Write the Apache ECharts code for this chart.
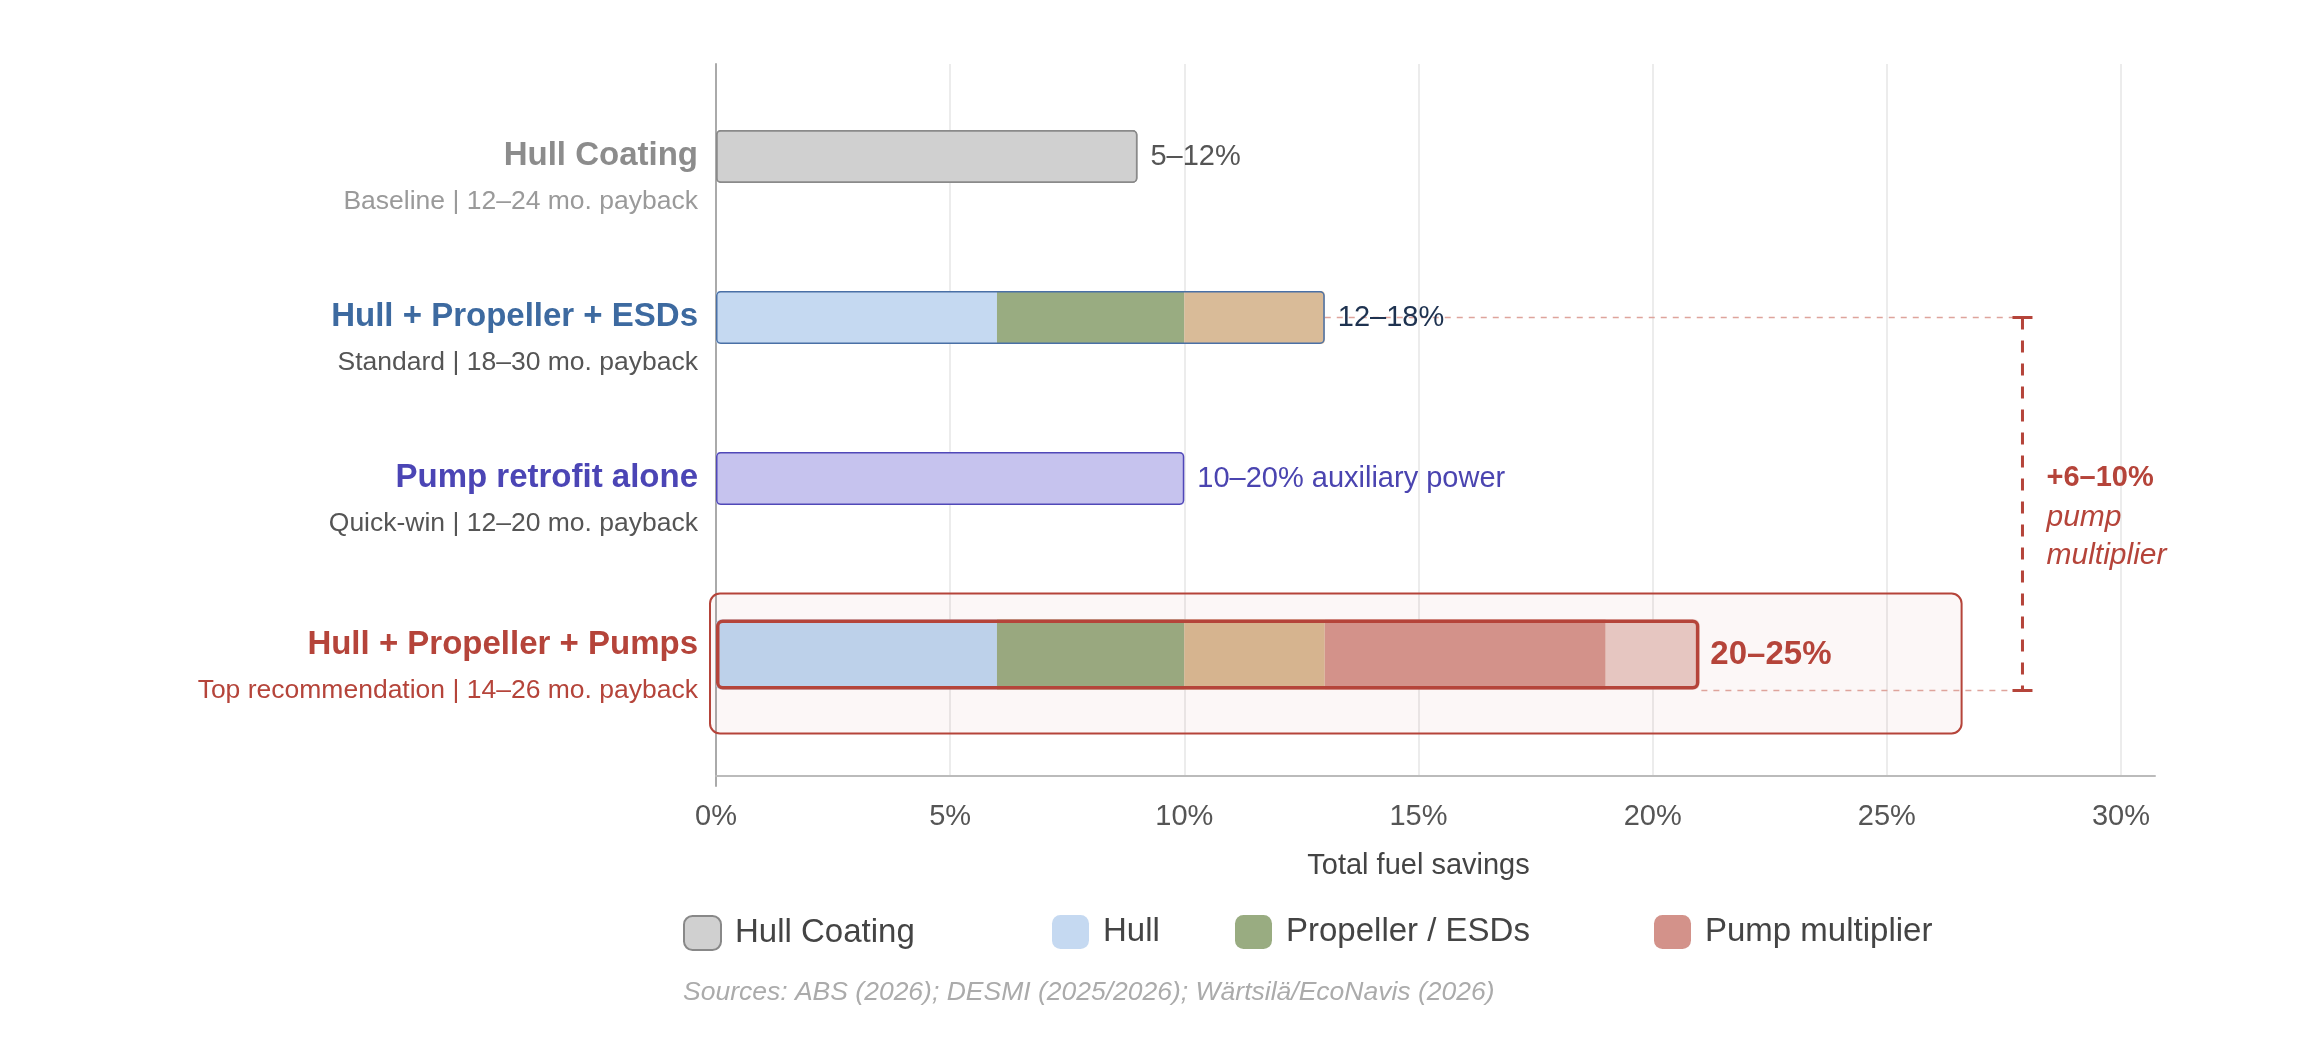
<!DOCTYPE html>
<html>
<head>
<meta charset="utf-8">
<script src="https://cdn.jsdelivr.net/npm/echarts@6/dist/echarts.min.js"></script>
<style>
html,body{margin:0;padding:0;background:#ffffff;}
#chart{width:2314px;height:1056px;}
</style>
</head>
<body>
<div id="chart"></div>
<script>
// ---------- data ----------
const rowTitles = ['Hull Coating', 'Hull + Propeller + ESDs', 'Pump retrofit alone', 'Hull + Propeller + Pumps'];
const rowSubtitles = ['Baseline | 12–24 mo. payback', 'Standard | 18–30 mo. payback', 'Quick-win | 12–20 mo. payback', 'Top recommendation | 14–26 mo. payback'];
const rowRangeLabels = ['5–12%', '12–18%', '10–20% auxiliary power', '20–25%'];
const hullCoating    = [9, null, null, null];
const hull           = [null, 6, null, 6];
const propeller      = [null, 4, null, 4];
const esds           = [null, 3, null, 3];
const pumpRetrofit   = [null, null, 10, null];
const pumpMultiplier = [null, null, null, 6];
const pumpUpper      = [null, null, null, 2];
const xTickValues    = [0, 5, 10, 15, 20, 25, 30];
const legendNames    = ['Hull Coating', 'Hull', 'Propeller / ESDs', 'Pump multiplier'];
const multiplierText = ['+6–10%', 'pump', 'multiplier'];
const sourcesText    = 'Sources: ABS (2026); DESMI (2025/2026); Wärtsilä/EcoNavis (2026)';

// ---------- styling / layout ----------
const FONT = '"Liberation Sans", Arial, Helvetica, sans-serif';
const RED = '#b5443a';
const titleColors = ['#8c8c8c', '#3d6aa0', '#4b45b5', RED];
const subColors   = ['#9a9a9a', '#555555', '#555555', RED];
const outlineColors = ['#8a8a8a', '#4a70a6', '#5048b8', RED];
const labelColors = ['#555555', '#1e3250', '#4a44b0', RED];
const BAR_W = 53, BAR4_W = 70;
const X_MAX_BARS = 30.73;
const BRACKET_X = 27.9;   // annotation position in % units
const BOX_X_MAX = 26.6;   // highlight box right edge in % units
const legendLefts = [683, 1052, 1235, 1654];

const totals = rowTitles.map((_, i) =>
  [hullCoating, hull, propeller, esds, pumpRetrofit, pumpMultiplier, pumpUpper]
    .reduce((s, a) => s + (a[i] || 0), 0));

function richFor(idxs) {
  const r = {};
  idxs.forEach(i => {
    r['t' + i] = {fontSize: 33, fontWeight: 'bold', color: titleColors[i], lineHeight: 46, align: 'right', fontFamily: FONT};
    r['s' + i] = {fontSize: 26.5, color: subColors[i], lineHeight: 46, align: 'right', fontFamily: FONT};
  });
  return r;
}
function labelFmt(offset) {
  return (value, index) => {
    const i = index + offset;
    return '{t' + i + '|' + rowTitles[i] + '}\n{s' + i + '|' + rowSubtitles[i] + '}';
  };
}
const sl = (a, s, e) => a.slice(s, e);

function barSeries(name, data, grid, width, itemStyle) {
  return {name, type: 'bar', xAxisIndex: grid, yAxisIndex: grid, stack: 'st' + grid,
    barWidth: width, barGap: '-100%', data, itemStyle, silent: true};
}

const chart = echarts.init(document.getElementById('chart'), null, {renderer: 'canvas', width: 2314, height: 1056});

const option = {
  backgroundColor: '#ffffff',
  animation: false,
  textStyle: {fontFamily: FONT},
  title: {
    text: sourcesText, left: 683, top: 979, padding: 0,
    textStyle: {fontSize: 26.5, fontStyle: 'italic', fontWeight: 'normal', color: '#ababab', fontFamily: FONT}
  },
  legend: legendNames.map((n, i) => ({
    data: [n], left: legendLefts[i], top: 915, padding: 0,
    itemWidth: 37, itemHeight: 34, icon: 'roundRect', selectedMode: false,
    textStyle: {fontSize: 33, color: '#444444', fontFamily: FONT, padding: [0, 0, 0, 9]}
  })),
  grid: [
    {left: 716, top: 64, width: 1405, height: 712, outerBoundsMode: 'none'},
    {left: 716, top: 76, width: 1439, height: 483, outerBoundsMode: 'none'},
    {left: 716, top: 574, width: 1439, height: 161, outerBoundsMode: 'none'},
    {left: 716, top: 64, width: 1405, height: 722, outerBoundsMode: 'none'}
  ],
  xAxis: [
    {gridIndex: 0, type: 'value', min: xTickValues[0], max: xTickValues[xTickValues.length - 1], interval: 5,
      axisLine: {show: false}, axisTick: {show: false},
      splitLine: {show: true, lineStyle: {color: '#e6e6e6', width: 1.5}},
      axisLabel: {formatter: v => v + '%', color: '#555555', fontSize: 29, margin: 26, fontFamily: FONT},
      name: 'Total fuel savings', nameLocation: 'middle', nameGap: 75,
      nameTextStyle: {fontSize: 29, color: '#444444', fontFamily: FONT}},
    {gridIndex: 1, type: 'value', min: 0, max: X_MAX_BARS, show: false},
    {gridIndex: 2, type: 'value', min: 0, max: X_MAX_BARS, offset: 41,
      axisLine: {show: true, onZero: false, lineStyle: {color: '#bbbbbb', width: 2}},
      axisTick: {show: false}, axisLabel: {show: false}, splitLine: {show: false}},
    {gridIndex: 3, type: 'value', min: 0, max: 1, show: false}
  ],
  yAxis: [
    {gridIndex: 0, type: 'value', min: 0, max: 1, show: false},
    {gridIndex: 1, type: 'category', inverse: true, data: sl(rowTitles, 0, 3),
      axisLine: {show: false}, axisTick: {show: false},
      axisLabel: {interval: 0, margin: 18, padding: [44, 0, 0, 0], formatter: labelFmt(0), rich: richFor([0, 1, 2])}},
    {gridIndex: 2, type: 'category', inverse: true, data: sl(rowTitles, 3, 4),
      axisLine: {show: false}, axisTick: {show: false},
      axisLabel: {interval: 0, margin: 18, padding: [26, 0, 0, 0], formatter: labelFmt(3), rich: richFor([3])}},
    {gridIndex: 3, type: 'value', min: 0, max: 1,
      axisLine: {show: true, onZero: false, lineStyle: {color: '#aaaaaa', width: 2}},
      axisTick: {show: false}, axisLabel: {show: false}, splitLine: {show: false}}
  ],
  series: [
    barSeries('Hull Coating', sl(hullCoating, 0, 3), 1, BAR_W, {color: '#d0d0d0', borderColor: '#888888', borderWidth: 1.5, borderRadius: 4}),
    barSeries('Hull', sl(hull, 0, 3), 1, BAR_W, {color: '#c5d9f1', borderRadius: [4, 0, 0, 4]}),
    barSeries('Propeller / ESDs', sl(propeller, 0, 3), 1, BAR_W, {color: '#99ac81'}),
    barSeries('ESDs', sl(esds, 0, 3), 1, BAR_W, {color: '#d9bb98', borderRadius: [0, 4, 4, 0]}),
    barSeries('Pump retrofit alone', sl(pumpRetrofit, 0, 3), 1, BAR_W, {color: '#c6c3ee', borderRadius: 4}),
    {name: 'outline-1', type: 'bar', xAxisIndex: 1, yAxisIndex: 1, barWidth: BAR_W, barGap: '-100%', z: 3, silent: true,
      data: sl(totals, 0, 3).map((v, i) => ({value: v, itemStyle: {borderColor: outlineColors[i]}, label: {color: labelColors[i]}})),
      itemStyle: {color: 'rgba(0,0,0,0)', borderWidth: 1.5, borderRadius: 4},
      label: {show: true, position: 'right', distance: 13, fontSize: 29, fontFamily: FONT,
        formatter: p => rowRangeLabels[p.dataIndex]}},
    barSeries('Hull', sl(hull, 3, 4), 2, BAR4_W, {color: '#bdd1ea', borderRadius: [5, 0, 0, 5]}),
    barSeries('Propeller / ESDs', sl(propeller, 3, 4), 2, BAR4_W, {color: '#99a87f'}),
    barSeries('ESDs', sl(esds, 3, 4), 2, BAR4_W, {color: '#d6b48f'}),
    barSeries('Pump multiplier', sl(pumpMultiplier, 3, 4), 2, BAR4_W, {color: '#d3928a'}),
    barSeries('Pump range', sl(pumpUpper, 3, 4), 2, BAR4_W, {color: '#e6c6c1', borderRadius: [0, 5, 5, 0]}),
    {name: 'outline-2', type: 'bar', xAxisIndex: 2, yAxisIndex: 2, barWidth: BAR4_W, barGap: '-100%', z: 3, silent: true,
      data: sl(totals, 3, 4),
      itemStyle: {color: 'rgba(0,0,0,0)', borderColor: RED, borderWidth: 3.5, borderRadius: 5},
      label: {show: true, position: 'right', distance: 11, fontSize: 33, fontWeight: 'bold', color: RED, fontFamily: FONT,
        formatter: () => rowRangeLabels[3]}}
  ]
};
chart.setOption(option);

// ---------- annotations placed through the chart's own scales ----------
const row2End = chart.convertToPixel({gridIndex: 1}, [totals[1], 1]);
const row4End = chart.convertToPixel({gridIndex: 2}, [totals[3], 0]);
const row4Start = chart.convertToPixel({gridIndex: 2}, [0, 0]);
const boxRight = chart.convertToPixel({gridIndex: 2}, [BOX_X_MAX, 0])[0];
const bx = chart.convertToPixel({gridIndex: 1}, [BRACKET_X, 0])[0];
const row4Bottom = row4End[1] + BAR4_W / 2 + 1;
const topY = row2End[1];
const midY = (topY + row4Bottom) / 2;
const boxLeft = row4Start[0] - 6;

chart.setOption({
  graphic: [
    {type: 'rect', z: 1, silent: true,
      shape: {x: boxLeft, y: row4End[1] - 61, width: boxRight - boxLeft, height: 140, r: 10},
      style: {fill: 'rgba(181,68,58,0.045)', stroke: RED, lineWidth: 2}},
    {type: 'line', z: 1, silent: true, shape: {x1: row2End[0], y1: topY, x2: bx, y2: topY},
      style: {stroke: '#dea49c', lineWidth: 1.5, lineDash: [6, 6]}},
    {type: 'line', z: 1, silent: true, shape: {x1: row4End[0] + 2, y1: row4Bottom, x2: bx, y2: row4Bottom},
      style: {stroke: '#dea49c', lineWidth: 1.5, lineDash: [6, 6]}},
    {type: 'line', z: 5, silent: true, shape: {x1: bx, y1: topY, x2: bx, y2: row4Bottom},
      style: {stroke: RED, lineWidth: 3, lineDash: [12, 11]}},
    {type: 'line', z: 5, silent: true, shape: {x1: bx - 10, y1: topY, x2: bx + 10, y2: topY},
      style: {stroke: RED, lineWidth: 3}},
    {type: 'line', z: 5, silent: true, shape: {x1: bx - 10, y1: row4Bottom, x2: bx + 10, y2: row4Bottom},
      style: {stroke: RED, lineWidth: 3}},
    {type: 'text', z: 5, silent: true, x: bx + 24, y: midY - 26,
      style: {text: multiplierText[0], fontSize: 29, fontWeight: 'bold', fontFamily: FONT, fill: RED, verticalAlign: 'middle', align: 'left'}},
    {type: 'text', z: 5, silent: true, x: bx + 24, y: midY + 14,
      style: {text: multiplierText[1], fontSize: 30, fontStyle: 'italic', fontFamily: FONT, fill: RED, verticalAlign: 'middle', align: 'left'}},
    {type: 'text', z: 5, silent: true, x: bx + 24, y: midY + 52,
      style: {text: multiplierText[2], fontSize: 30, fontStyle: 'italic', fontFamily: FONT, fill: RED, verticalAlign: 'middle', align: 'left'}}
  ]
});
</script>
</body>
</html>
